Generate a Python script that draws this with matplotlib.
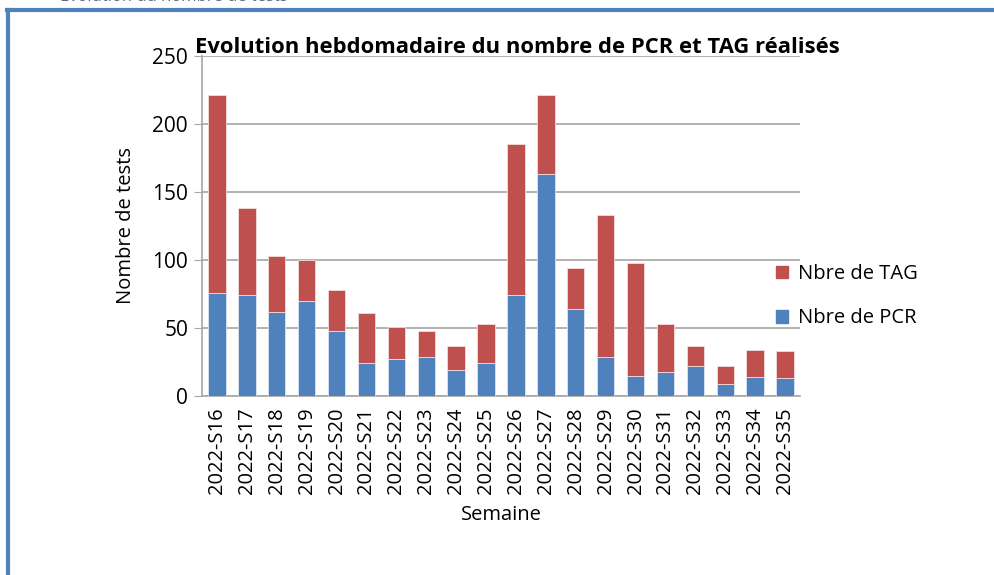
import matplotlib.pyplot as plt
from matplotlib.lines import Line2D
import numpy as np

plt.rcParams['font.family'] = ['Open Sans', 'DejaVu Sans']

semaines = ['2022-S16', '2022-S17', '2022-S18', '2022-S19', '2022-S20',
            '2022-S21', '2022-S22', '2022-S23', '2022-S24', '2022-S25',
            '2022-S26', '2022-S27', '2022-S28', '2022-S29', '2022-S30',
            '2022-S31', '2022-S32', '2022-S33', '2022-S34', '2022-S35']
pcr = [76, 74, 62, 70, 48, 24, 27, 29, 19, 24,
       74, 163, 64, 29, 15, 18, 22, 9, 14, 13]
total = [221, 138, 103, 100, 78, 61, 51, 48, 37, 53,
         185, 221, 94, 133, 98, 53, 37, 22, 34, 33]
tag = [t - p for t, p in zip(total, pcr)]

blue = '#4F81BD'
red = '#C0504D'

fig = plt.figure(figsize=(9.95, 5.75), dpi=100)
ax = fig.add_axes([0.203, 0.311, 0.601, 0.592])

x = np.arange(len(semaines))
ax.bar(x, pcr, width=0.58, color=blue, edgecolor='#dbe5f1', linewidth=0.6,
       label='Nbre de PCR', zorder=3)
ax.bar(x, tag, width=0.58, bottom=pcr, color=red, edgecolor='#f2dcdb',
       linewidth=0.6, label='Nbre de TAG', zorder=3)

ax.set_xlim(-0.5, len(semaines) - 0.5)
ax.set_ylim(0, 250)
ax.set_yticks(range(0, 251, 50))
ax.grid(axis='y', color='#a6a6a6', linewidth=1.2, zorder=0)
for s in ['top', 'right']:
    ax.spines[s].set_visible(False)
ax.spines['left'].set_color('#a6a6a6')
ax.spines['bottom'].set_color('#a6a6a6')
ax.spines['left'].set_linewidth(1.2)
ax.spines['bottom'].set_linewidth(1.2)

ax.set_xticks(x)
ax.set_xticklabels(semaines, rotation=90, fontsize=14.5)
ax.tick_params(axis='x', length=0, pad=8)
ax.tick_params(axis='y', length=6, color='#a6a6a6', labelsize=15, pad=4)

ax.set_xlabel('Semaine', fontsize=14.5, labelpad=8)
ax.set_ylabel('Nombre de tests', fontsize=14.5, labelpad=12)

fig.text(0.196, 0.917, 'Evolution hebdomadaire du nombre de PCR et TAG réalisés',
         fontsize=15.8, fontweight='bold', ha='left', va='center')

handles = [plt.Rectangle((0, 0), 1, 1, color=red),
           plt.Rectangle((0, 0), 1, 1, color=blue)]
fig.legend(handles, ['Nbre de TAG', 'Nbre de PCR'], loc='center left',
           bbox_to_anchor=(0.762, 0.485), frameon=False, fontsize=14.5,
           handlelength=0.6, handleheight=0.6, labelspacing=1.2,
           handletextpad=0.5)

# blue frame around the chart
fig.add_artist(Line2D([0.007, 1.0], [0.983, 0.983], color=blue, linewidth=3,
                      transform=fig.transFigure))
fig.add_artist(Line2D([0.008, 0.008], [0.0, 0.983], color=blue, linewidth=3,
                      transform=fig.transFigure))
fig.text(0.06, 1.005, 'Evolution du nombre de tests', fontsize=12,
         color='#5a6f8f', ha='left', va='center')

plt.savefig('out.png', dpi=100)
